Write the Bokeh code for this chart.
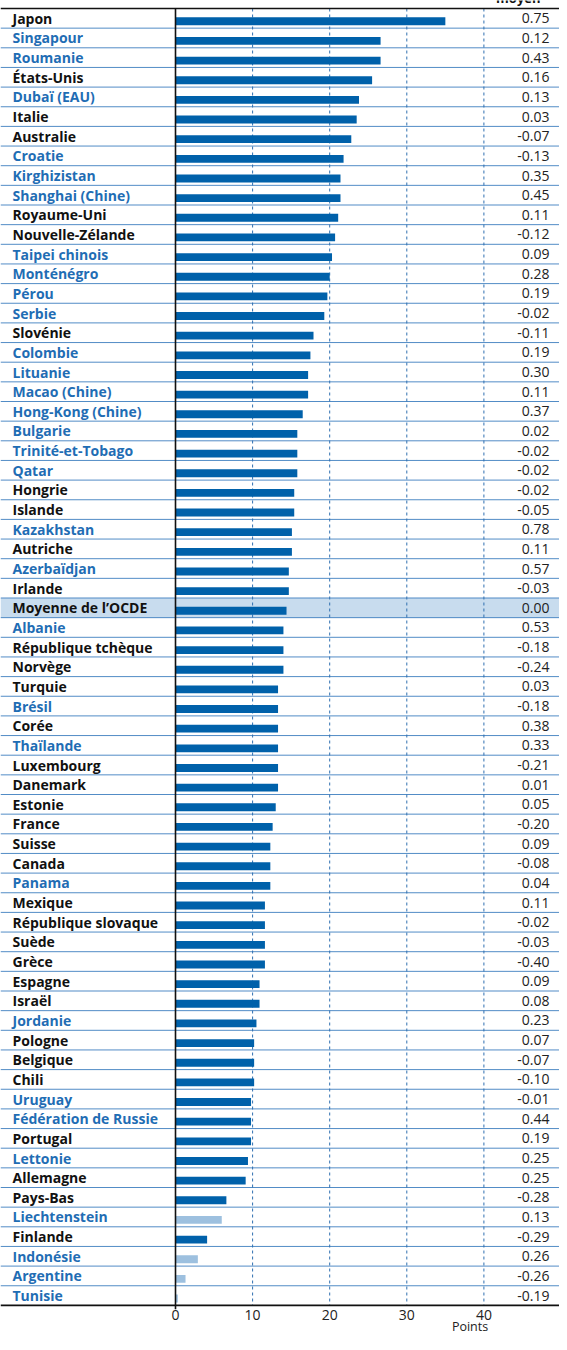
from bokeh.plotting import figure
from bokeh.models import Range1d
from bokeh.core.properties import value
from bokeh.embed import file_html
from bokeh.resources import INLINE

countries = [
    "Japon", "Singapour", "Roumanie", "États-Unis", "Dubaï (EAU)", "Italie",
    "Australie", "Croatie", "Kirghizistan", "Shanghai (Chine)", "Royaume-Uni",
    "Nouvelle-Zélande", "Taipei chinois", "Monténégro", "Pérou", "Serbie",
    "Slovénie", "Colombie", "Lituanie", "Macao (Chine)", "Hong-Kong (Chine)",
    "Bulgarie", "Trinité-et-Tobago", "Qatar", "Hongrie", "Islande", "Kazakhstan",
    "Autriche", "Azerbaïdjan", "Irlande", "Moyenne de l’OCDE", "Albanie",
    "République tchèque", "Norvège", "Turquie", "Brésil", "Corée", "Thaïlande",
    "Luxembourg", "Danemark", "Estonie", "France", "Suisse", "Canada", "Panama",
    "Mexique", "République slovaque", "Suède", "Grèce", "Espagne", "Israël",
    "Jordanie", "Pologne", "Belgique", "Chili", "Uruguay", "Fédération de Russie",
    "Portugal", "Lettonie", "Allemagne", "Pays-Bas", "Liechtenstein", "Finlande",
    "Indonésie", "Argentine", "Tunisie",
]

points = [
    35.0, 26.6, 26.6, 25.5, 23.8, 23.5, 22.8, 21.8, 21.4, 21.4, 21.1, 20.7,
    20.3, 20.0, 19.7, 19.3, 17.9, 17.5, 17.2, 17.2, 16.5, 15.8, 15.8, 15.8,
    15.4, 15.4, 15.1, 15.1, 14.7, 14.7, 14.4, 14.0, 14.0, 14.0, 13.3, 13.3,
    13.3, 13.3, 13.3, 13.3, 13.0, 12.6, 12.3, 12.3, 12.3, 11.6, 11.6, 11.6,
    11.6, 10.9, 10.9, 10.5, 10.2, 10.2, 10.2, 9.8, 9.8, 9.8, 9.4, 9.1, 6.6,
    6.0, 4.1, 2.9, 1.3, 0.3,
]

moyen = [
    0.75, 0.12, 0.43, 0.16, 0.13, 0.03, -0.07, -0.13, 0.35, 0.45,
    0.11, -0.12, 0.09, 0.28, 0.19, -0.02, -0.11, 0.19, 0.30, 0.11,
    0.37, 0.02, -0.02, -0.02, -0.02, -0.05, 0.78, 0.11, 0.57, -0.03,
    0.00, 0.53, -0.18, -0.24, 0.03, -0.18, 0.38, 0.33, -0.21, 0.01,
    0.05, -0.20, 0.09, -0.08, 0.04, 0.11, -0.02, -0.03, -0.40, 0.09,
    0.08, 0.23, 0.07, -0.07, -0.10, -0.01, 0.44, 0.19, 0.25, 0.25,
    -0.28, 0.13, -0.29, 0.26, -0.26, -0.19,
]

# partner economies (blue labels)
partners = [
    "Singapour", "Roumanie", "Dubaï (EAU)", "Croatie", "Kirghizistan",
    "Shanghai (Chine)", "Taipei chinois", "Monténégro", "Pérou", "Serbie",
    "Colombie", "Lituanie", "Macao (Chine)", "Hong-Kong (Chine)", "Bulgarie",
    "Trinité-et-Tobago", "Qatar", "Kazakhstan", "Azerbaïdjan", "Albanie",
    "Brésil", "Thaïlande", "Panama", "Jordanie", "Uruguay",
    "Fédération de Russie", "Lettonie", "Liechtenstein", "Indonésie",
    "Argentine", "Tunisie",
]
# differences not statistically significant (light bars)
not_significant = ["Liechtenstein", "Indonésie", "Argentine", "Tunisie"]
oecd_average = "Moyenne de l’OCDE"

x_ticks = [0, 10, 20, 30, 40]
x_label = "Points"
column_header = "moyen"

# ---- layout ----
W, H = 559, 1334
PX = 7.71          # pixels per point
X0 = 175           # canvas x of zero
ROW = 19.65        # pixels per row
TOP = 8            # canvas y of the top rule
n = len(countries)
x_start = -X0 / PX
x_end = (W - X0) / PX
y_top = -0.5 - TOP / ROW
y_bottom = y_top + H / ROW

DARK = "#0061aa"
LIGHT = "#9dc0df"
BLUE_TXT = "#1f6db4"
SEP = "#3f7fc0"
FONT = value("Open Sans")

p = figure(width=W, height=H, x_range=Range1d(x_start, x_end),
           y_range=Range1d(y_bottom, y_top), min_border=0,
           toolbar_location=None, output_backend="svg",
           x_axis_location=None, y_axis_location=None,
           outline_line_color=None, background_fill_color="white")
p.grid.visible = False

ys = list(range(n))

# OECD average highlight
hi = countries.index(oecd_average)
p.hbar(y=[hi], left=[x_start], right=[x_end], height=1.0,
       fill_color="#c8dcee", line_color=None)

# row separators
p.segment(x0=[x_start] * (n - 1), x1=[x_end] * (n - 1),
          y0=[i + 0.5 for i in range(n - 1)], y1=[i + 0.5 for i in range(n - 1)],
          line_color=SEP, line_width=1, line_alpha=0.9)

# dashed vertical grid
grid_t = [t for t in x_ticks if t != 0]
p.segment(x0=grid_t, x1=grid_t, y0=[-0.5] * len(grid_t), y1=[n - 0.5] * len(grid_t),
          line_color="#2f6fb0", line_width=1, line_dash="3 3")

# bars
bar_colors = [LIGHT if c in not_significant else DARK for c in countries]
p.hbar(y=[y + 0.15 for y in ys], left=0, right=points, height=0.4,
       fill_color=bar_colors, line_color=None)

# top / bottom black lines and zero axis
p.segment(x0=[x_start, x_start], x1=[x_end, x_end], y0=[-0.5, n - 0.5],
          y1=[-0.5, n - 0.5], line_color="#111111", line_width=1.6)
p.segment(x0=[0], x1=[0], y0=[-0.5], y1=[n - 0.3], line_color="#111111",
          line_width=1.6)

# country labels
label_colors = [BLUE_TXT if c in partners else "#111111" for c in countries]
p.text(x=[x_start] * n, y=ys, text=countries, x_offset=12,
       text_font=FONT, text_font_style="bold",
       text_font_size="14px", text_color=label_colors,
       text_baseline="middle", text_align="left")

# average change column
p.text(x=[x_end] * n, y=ys, text=["%.2f" % v for v in moyen], x_offset=-10,
       text_font=FONT, text_font_size="14px",
       text_color="#222222", text_baseline="middle", text_align="right")
p.text(x=[x_end], y=[y_top], text=[column_header], x_offset=-19, y_offset=6,
       text_font=FONT, text_font_style="bold", text_font_size="13px",
       text_color="#111111", text_baseline="bottom", text_align="right")

# x tick labels
p.text(x=x_ticks, y=[n - 0.5] * len(x_ticks), text=[str(t) for t in x_ticks],
       y_offset=10, text_font=FONT, text_font_size="14px",
       text_color="#222222", text_baseline="middle", text_align="center")
p.text(x=[38.2], y=[y_bottom], text=[x_label], y_offset=0,
       text_font=FONT, text_font_size="12.5px",
       text_color="#222222", text_baseline="bottom", text_align="center")

open("out.html", "w").write(file_html(p, INLINE))
